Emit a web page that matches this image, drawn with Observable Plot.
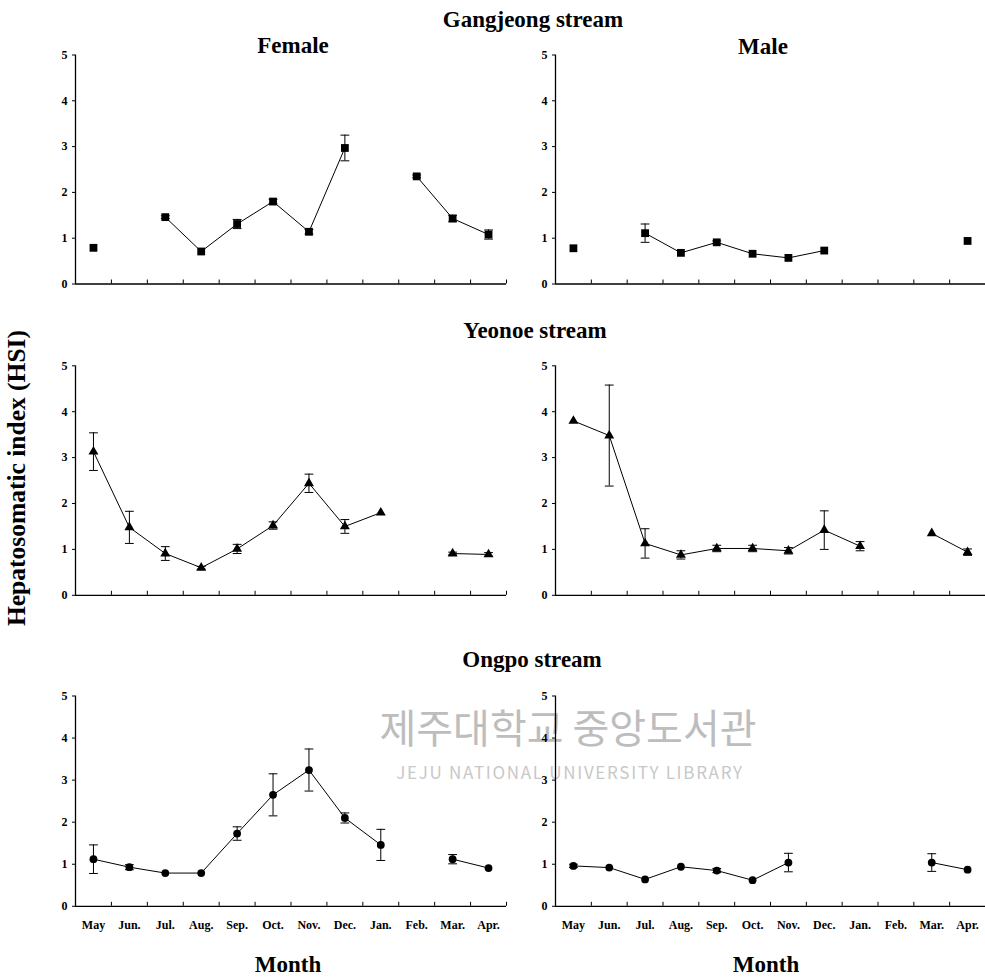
<!DOCTYPE html>
<html><head><meta charset="utf-8">
<script src="https://cdn.jsdelivr.net/npm/d3@7"></script>
<script src="https://cdn.jsdelivr.net/npm/@observablehq/plot@0.6"></script>
<style>
body{margin:0;background:#fff;}
#chart{position:relative;width:985px;height:979px;font-family:"Liberation Serif","Times New Roman",serif;font-weight:bold;color:#000;overflow:hidden;background:#fff}
.t{position:absolute;font-size:23px;line-height:23px;white-space:nowrap;transform:translateX(-50%)}
.p{position:absolute}
.p text{font-weight:bold}
.wm{position:absolute;font-family:"Noto Sans CJK KR","Noto Sans",sans-serif;font-weight:normal;white-space:nowrap;transform:translateX(-50%)}
</style></head><body><div id="chart"></div>
<script>
const months = ["May","Jun.","Jul.","Aug.","Sep.","Oct.","Nov.","Dec.","Jan.","Feb.","Mar.","Apr."];
const yTicks = [0, 1, 2, 3, 4, 5];
const streams = ["Gangjeong stream", "Yeonoe stream", "Ongpo stream"];
const sexes = ["Female", "Male"];

// Gangjeong stream
const gangFemale   = [0.79, null, 1.46, 0.71, 1.31, 1.80, 1.14, 2.97, null, 2.35, 1.43, 1.08];
const gangFemaleSE = [0, 0, 0.03, 0, 0.10, 0.05, 0.05, 0.28, 0, 0.03, 0.07, 0.10];
const gangMale     = [0.78, null, 1.11, 0.68, 0.91, 0.66, 0.57, 0.73, null, null, null, 0.94];
const gangMaleSE   = [0, 0, 0.20, 0, 0.03, 0, 0, 0, 0, 0, 0, 0];
// Yeonoe stream
const yeonFemale   = [3.13, 1.48, 0.91, 0.60, 1.01, 1.52, 2.44, 1.50, 1.80, null, 0.91, 0.89];
const yeonFemaleSE = [0.41, 0.35, 0.15, 0.03, 0.10, 0.08, 0.20, 0.15, 0, 0, 0.03, 0.04];
const yeonMale     = [3.80, 3.48, 1.13, 0.88, 1.02, 1.02, 0.97, 1.42, 1.07, null, 1.35, 0.94];
const yeonMaleSE   = [0, 1.10, 0.32, 0.09, 0.07, 0.07, 0.07, 0.42, 0.10, 0, 0, 0.07];
// Ongpo stream
const ongFemale    = [1.12, 0.93, 0.79, 0.79, 1.73, 2.65, 3.24, 2.10, 1.46, null, 1.12, 0.91];
const ongFemaleSE  = [0.34, 0.06, 0, 0, 0.16, 0.50, 0.50, 0.12, 0.37, 0, 0.11, 0];
const ongMale      = [0.96, 0.92, 0.64, 0.94, 0.85, 0.62, 1.04, null, null, null, 1.04, 0.87];
const ongMaleSE    = [0.04, 0, 0, 0, 0.05, 0, 0.22, 0, 0, 0, 0.21, 0];

const chart = document.getElementById("chart");

function addText(txt, cls, left, top, extra) {
  const d = document.createElement("div");
  d.className = cls;
  d.textContent = txt;
  d.style.left = left + "px";
  d.style.top = top + "px";
  if (extra) Object.assign(d.style, extra);
  chart.appendChild(d);
}

// faint library watermark (behind the charts)
addText("제주대학교 중앙도서관", "wm", 568, 706, {fontSize: "40px", lineHeight: "40px", color: "#bdbdbd"});
addText("JEJU NATIONAL UNIVERSITY LIBRARY", "wm", 570, 763, {fontSize: "17px", lineHeight: "18px", color: "#c8c8c8", letterSpacing: "1.7px"});

const capShape = {draw(ctx, l) { ctx.moveTo(-l / 2, 0); ctx.lineTo(l / 2, 0); }};

function panel(values, se, symbol, r, pos) {
  const data = months.map((m, i) => ({x: i + 0.5, month: m, v: values[i], se: se[i]}));
  const ok = data.filter(d => d.v != null);
  const eb = ok.filter(d => d.se > 0);
  const marks = [
    Plot.ruleX([0], {stroke: "black", strokeWidth: 1.3}),
    Plot.ruleY([0], {stroke: "black", strokeWidth: 1.3}),
    Plot.axisY(yTicks, {tickSize: 3, tickPadding: 5, fontSize: 12, fontWeight: "bold", label: null, tickFormat: d => String(d)}),
    Plot.axisX(d3.range(13), {tickSize: 4, dy: -4, tickFormat: () => "", label: null}),
    Plot.ruleX(eb, {x: "x", y1: d => d.v - d.se, y2: d => d.v + d.se, stroke: "black", strokeWidth: 1}),
    Plot.vector(eb, {x: "x", y: d => d.v + d.se, length: 8, rotate: 0, anchor: "start", shape: capShape, stroke: "black", strokeWidth: 1}),
    Plot.vector(eb, {x: "x", y: d => d.v - d.se, length: 8, rotate: 0, anchor: "start", shape: capShape, stroke: "black", strokeWidth: 1}),
    Plot.line(data, {x: "x", y: "v", stroke: "black", strokeWidth: 1}),
    Plot.dot(ok, {x: "x", y: "v", symbol, r, fill: "black", stroke: null})
  ];
  if (pos.months) {
    marks.push(Plot.axisX(months.map((m, i) => i + 0.5), {tickSize: 0, tickPadding: 14, fontSize: 12, fontWeight: "bold", label: null, tickFormat: d => months[Math.floor(d)]}));
  }
  const svg = Plot.plot({
    width: pos.width, height: pos.height,
    marginLeft: pos.ml, marginRight: pos.mr, marginTop: pos.mt, marginBottom: pos.mb,
    x: {type: "linear", domain: [0, 12]},
    y: {type: "linear", domain: [0, 5]},
    style: {fontFamily: "'Liberation Serif', 'Times New Roman', serif", fontWeight: "bold", fontSize: "12px", background: "transparent", overflow: "visible", maxWidth: "none"},
    marks
  });
  const wrap = document.createElement("div");
  wrap.className = "p";
  wrap.style.left = pos.left + "px";
  wrap.style.top = pos.top + "px";
  wrap.appendChild(svg);
  chart.appendChild(wrap);
}

const colF = {left: 0, width: 510, ml: 75, mr: 4};
const colM = {left: 490, width: 495, ml: 65, mr: 0};
const row1 = {top: 40, height: 250, mt: 14.5, mb: 6.5};
const row2 = {top: 350, height: 250, mt: 15.3, mb: 5.2};
const row3 = {top: 680, height: 260, mt: 15.5, mb: 34.2, months: true};

panel(gangFemale, gangFemaleSE, "square", 4.4, {...colF, ...row1});
panel(gangMale, gangMaleSE, "square", 4.4, {...colM, ...row1});
panel(yeonFemale, yeonFemaleSE, "triangle", 3.7, {...colF, ...row2});
panel(yeonMale, yeonMaleSE, "triangle", 3.7, {...colM, ...row2});
panel(ongFemale, ongFemaleSE, "circle", 3.9, {...colF, ...row3});
panel(ongMale, ongMaleSE, "circle", 3.9, {...colM, ...row3});

// titles
addText(streams[0], "t", 533, 7.7);
addText(sexes[0], "t", 293, 33.7);
addText(sexes[1], "t", 763, 34.7);
addText(streams[1], "t", 535, 318.7);
addText(streams[2], "t", 532, 647.7);
addText("Month", "t", 288, 952.7);
addText("Month", "t", 766, 952.7);
addText("Hepatosomatic index (HSI)", "t", 17.4, 478, {fontSize: "25.5px", lineHeight: "25.5px", transform: "translate(-50%,-50%) rotate(-90deg)"});
</script></body></html>
